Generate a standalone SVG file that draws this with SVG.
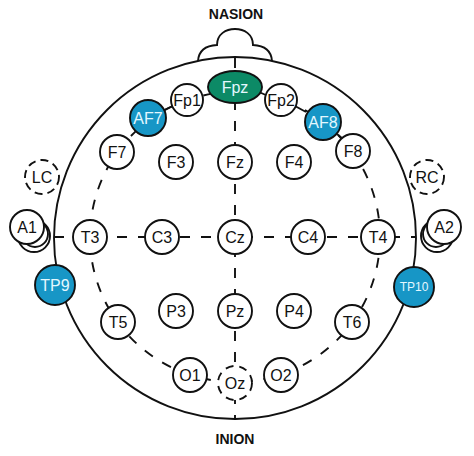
<svg xmlns="http://www.w3.org/2000/svg" width="474" height="456" viewBox="0 0 474 456">
<style>
.n{fill:#fff;stroke:#111;stroke-width:1.9}
.d{fill:none;stroke:#111;stroke-width:1.9;stroke-dasharray:10 11}
.s{fill:none;stroke:#111;stroke-width:1.9}
.t{font-family:"Liberation Sans",Arial,sans-serif;font-size:16px;fill:#111;text-anchor:middle;dominant-baseline:central}
.b{fill:#1796c6;stroke:#111;stroke-width:1.9}
.g{fill:#0c8a66;stroke:#111;stroke-width:1.9}
.w{fill:#e4f8ff}
.h{font-family:"Liberation Sans",Arial,sans-serif;font-size:14px;font-weight:bold;fill:#111;text-anchor:middle}
</style>
<rect width="474" height="456" fill="#fff"/>
<text class="h" x="236" y="19">NASION</text>
<text class="h" x="235" y="444">INION</text>
<g id="head">
<path class="n" d="M198,61 Q199,46 217,45 C217,34 226,29 235,29 C244,29 253,34 253,45 Q271,46 272,61"/>
<circle class="s" cx="235" cy="238" r="181"/>
</g>
<g id="connectors">
<circle class="d" cx="235" cy="237" r="145"/>
<line class="d" x1="235" y1="58" x2="235" y2="419"/>
<line class="d" x1="54" y1="237" x2="416" y2="237"/>
<line class="s" x1="173" y1="106" x2="164" y2="110"/>
<line class="s" x1="259" y1="92" x2="268" y2="96"/>
<line class="s" x1="295" y1="106" x2="306" y2="112"/>
<line class="s" x1="337" y1="134" x2="343" y2="139"/>
</g>
<g id="A1"><circle class="n" cx="34" cy="236" r="16"/><circle class="n" cx="35" cy="234" r="13"/><circle class="n" cx="27" cy="227" r="17"/><text class="t" x="27" y="227">A1</text></g>
<g id="A2"><circle class="n" cx="437" cy="236" r="16"/><circle class="n" cx="436" cy="234" r="13"/><circle class="n" cx="444" cy="227" r="17"/><text class="t" x="444" y="227">A2</text></g>
<g id="LC"><circle class="d" cx="42" cy="177" r="17" style="stroke-dasharray:8 5"/><text class="t" x="42" y="177">LC</text></g>
<g id="RC"><circle class="d" cx="427" cy="177" r="17" style="stroke-dasharray:8 5"/><text class="t" x="427" y="177">RC</text></g>
<g id="Fpz"><ellipse class="g" cx="235" cy="87" rx="27" ry="16"/><text class="t w" x="235" y="87">Fpz</text></g>
<g id="Fp1"><circle class="n" cx="187" cy="100" r="16"/><text class="t" x="187" y="100">Fp1</text></g>
<g id="Fp2"><circle class="n" cx="281" cy="100" r="16"/><text class="t" x="281" y="100">Fp2</text></g>
<g id="AF7"><circle class="b" cx="148" cy="118" r="18"/><text class="t w" x="148" y="118">AF7</text></g>
<g id="AF8"><circle class="b" cx="323" cy="122" r="18"/><text class="t w" x="323" y="122">AF8</text></g>
<g id="F7"><circle class="n" cx="117" cy="152" r="17"/><text class="t" x="117" y="152">F7</text></g>
<g id="F3"><circle class="n" cx="176" cy="162" r="17"/><text class="t" x="176" y="162">F3</text></g>
<g id="Fz"><circle class="n" cx="235" cy="162" r="17"/><text class="t" x="235" y="162">Fz</text></g>
<g id="F4"><circle class="n" cx="294" cy="162" r="17"/><text class="t" x="294" y="162">F4</text></g>
<g id="F8"><circle class="n" cx="353" cy="151" r="17"/><text class="t" x="353" y="151">F8</text></g>
<g id="T3"><circle class="n" cx="90" cy="237" r="17"/><text class="t" x="90" y="237">T3</text></g>
<g id="C3"><circle class="n" cx="162" cy="237" r="17"/><text class="t" x="162" y="237">C3</text></g>
<g id="Cz"><circle class="n" cx="235" cy="237" r="17"/><text class="t" x="235" y="237">Cz</text></g>
<g id="C4"><circle class="n" cx="308" cy="237" r="17"/><text class="t" x="308" y="237">C4</text></g>
<g id="T4"><circle class="n" cx="378" cy="237" r="17"/><text class="t" x="378" y="237">T4</text></g>
<g id="TP9"><circle class="b" cx="55" cy="285" r="20"/><text class="t w" x="55" y="285">TP9</text></g>
<g id="TP10"><circle class="b" cx="414" cy="287" r="20"/><text class="t w" x="414" y="287" style="font-size:12px">TP10</text></g>
<g id="T5"><circle class="n" cx="118" cy="322" r="17"/><text class="t" x="118" y="322">T5</text></g>
<g id="P3"><circle class="n" cx="176" cy="311" r="17"/><text class="t" x="176" y="311">P3</text></g>
<g id="Pz"><circle class="n" cx="235" cy="311" r="17"/><text class="t" x="235" y="311">Pz</text></g>
<g id="P4"><circle class="n" cx="294" cy="311" r="17"/><text class="t" x="294" y="311">P4</text></g>
<g id="T6"><circle class="n" cx="352" cy="322" r="17"/><text class="t" x="352" y="322">T6</text></g>
<g id="O1"><circle class="n" cx="190" cy="375" r="17"/><text class="t" x="190" y="375">O1</text></g>
<g id="Oz"><circle cx="235" cy="383" r="17" fill="#fff"/><circle class="d" cx="235" cy="383" r="17" style="stroke-dasharray:8 6"/><text class="t" x="235" y="383">Oz</text></g>
<g id="O2"><circle class="n" cx="281" cy="375" r="17"/><text class="t" x="281" y="375">O2</text></g>
</svg>
